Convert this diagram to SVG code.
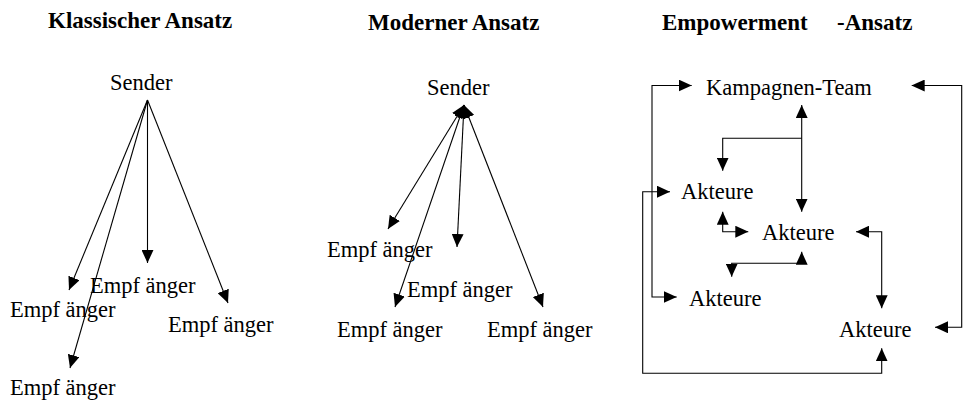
<svg xmlns="http://www.w3.org/2000/svg" width="966" height="404" viewBox="0 0 966 404">
<style>
text{font-family:"Liberation Serif","Tinos","Times New Roman","DejaVu Serif",Times,serif;font-size:22.5px;fill:#000}
.t{font-weight:bold;font-size:23px}
.c line,.c path{stroke:#000;stroke-width:1.1;fill:none}
.e{marker-end:url(#ah)}
.b{marker-start:url(#ah);marker-end:url(#ah)}
</style>
<defs>
<marker id="ah" markerUnits="userSpaceOnUse" markerWidth="13" markerHeight="12" refX="12" refY="5.5" orient="auto-start-reverse" viewBox="0 0 12 11">
<path d="M0,0 L12,5.5 L0,11 z" fill="#000"/>
</marker>
</defs>
<rect width="966" height="404" fill="#fff"/>
<g id="titles">
<text class="t" x="48" y="28">Klassischer Ansatz</text>
<text class="t" x="368" y="30">Moderner Ansatz</text>
<text class="t" x="662" y="30">Empowerment<tspan x="837">-Ansatz</tspan></text>
</g>
<g id="k-sender"><text x="110" y="90">Sender</text></g>
<g id="k-e1"><text x="90" y="293">Empf änger</text></g>
<g id="k-e2"><text x="10" y="317">Empf änger</text></g>
<g id="k-e3"><text x="168" y="332">Empf änger</text></g>
<g id="k-e4"><text x="10" y="395">Empf änger</text></g>
<g id="m-sender"><text x="427" y="95">Sender</text></g>
<g id="m-e1"><text x="327" y="257">Empf änger</text></g>
<g id="m-e2"><text x="407" y="297">Empf änger</text></g>
<g id="m-e3"><text x="337" y="337">Empf änger</text></g>
<g id="m-e4"><text x="487" y="337">Empf änger</text></g>
<g id="team"><text x="706" y="95">Kampagnen-Team</text></g>
<g id="akteure1"><text x="681" y="199">Akteure</text></g>
<g id="akteure2"><text x="762" y="240">Akteure</text></g>
<g id="akteure3"><text x="689" y="306">Akteure</text></g>
<g id="akteure4"><text x="839" y="337">Akteure</text></g>
<g id="connectors" class="c">
<line class="e" x1="147.5" y1="100" x2="69" y2="290"/>
<line class="e" x1="147.5" y1="100" x2="70" y2="368"/>
<line class="e" x1="147.5" y1="100" x2="147.5" y2="263"/>
<line class="e" x1="147.5" y1="100" x2="228" y2="303"/>
<line class="b" x1="464" y1="105" x2="388" y2="229"/>
<line class="b" x1="464" y1="105" x2="395" y2="307"/>
<line class="b" x1="464" y1="105" x2="457" y2="247"/>
<line class="b" x1="464" y1="105" x2="543" y2="307"/>
<path class="b" d="M691.7,85.5 L652,85.5 L652,297 L676.7,297"/>
<path class="b" d="M911.7,85.5 L961.7,85.5 L961.7,327.3 L935,327.3"/>
<line class="b" x1="801.7" y1="105" x2="801.7" y2="211.7"/>
<path class="e" d="M801.7,138.3 L722.7,138.3 L722.7,170.7"/>
<path class="b" d="M670,191.7 L642.7,191.7 L642.7,373.3 L881.7,373.3 L881.7,348.3"/>
<path class="b" d="M722.7,211.7 L722.7,231.7 L748.3,231.7"/>
<path class="b" d="M801.7,251.7 L801.7,263.3 L731.7,263.3 L731.7,276.7"/>
<path class="b" d="M856,231.7 L881.7,231.7 L881.7,308.3"/>
</g>
</svg>
